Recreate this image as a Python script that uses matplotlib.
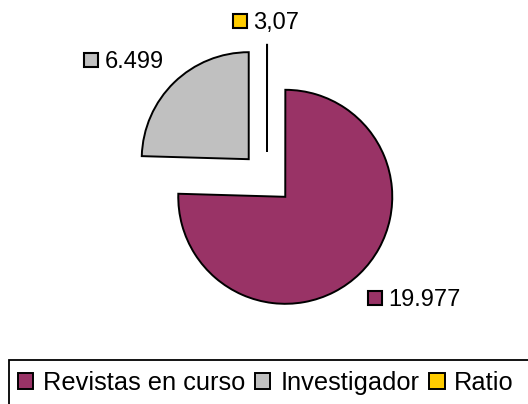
import matplotlib
matplotlib.use("Agg")
import matplotlib.pyplot as plt
from matplotlib.patches import Rectangle

plt.rcParams.update({
    "font.family": ["Liberation Sans", "DejaVu Sans"],
    "figure.facecolor": "white", "savefig.facecolor": "white",
})

categories = ["Revistas en curso", "Investigador", "Ratio"]
values = [19977, 6499, 3.07]
value_labels = ["19.977", "6.499", "3,07"]
colours = ["#993366", "#C0C0C0", "#FFCC00"]

W, H = 528, 404
R = 107.0  # pie radius in pixels; data units are radii


def px(x, y):
    """pixel position (y down) -> data units."""
    return x / R, (H - y) / R


fig = plt.figure(figsize=(W / 100, H / 100), dpi=100)
ax = fig.add_axes([0, 0, 1, 1])

# pie drawn clockwise from 12 o'clock; the slices in this order start at the top
order = [2, 0, 1]
wedges, _ = ax.pie([values[i] for i in order],
                   colors=[colours[i] for i in order],
                   explode=[0.245] * 3, center=px(267, 178), radius=1.0,
                   startangle=90, counterclock=False,
                   wedgeprops=dict(edgecolor="black", linewidth=1.4))
handles = [wedges[order.index(i)] for i in range(3)]

ax.set_xlim(0, W / R)
ax.set_ylim(0, H / R)
ax.set_aspect("equal")
ax.axis("off")

# value labels with a small colour key in front
label_pos = {0: (375, 298), 1: (91, 60), 2: (240, 21)}
for i, (sx, sy) in label_pos.items():
    ax.plot(*px(sx, sy), marker="s", ms=10.5, mfc=colours[i], mec="black",
            mew=1.5, clip_on=False)
    ax.text(*px(sx + 13.5, sy + 8), value_labels[i], fontsize=17,
            ha="left", va="baseline", color="black")

# legend box runs off the right and bottom edges of the canvas
fig.patches.append(Rectangle((9 / W, -0.05), 1.1, 1 - 360 / H + 0.05,
                             transform=fig.transFigure, fill=False,
                             edgecolor="black", linewidth=1.3))
ax.legend(handles, categories, loc="upper left",
          bbox_to_anchor=(9 / W, 1 - 362 / H), bbox_transform=fig.transFigure,
          ncol=3, fontsize=18.3, frameon=False, borderpad=0.35, borderaxespad=0,
          handlelength=0.6, handleheight=0.6, handletextpad=0.38,
          columnspacing=0.4)

fig.savefig("out.png", dpi=100)
